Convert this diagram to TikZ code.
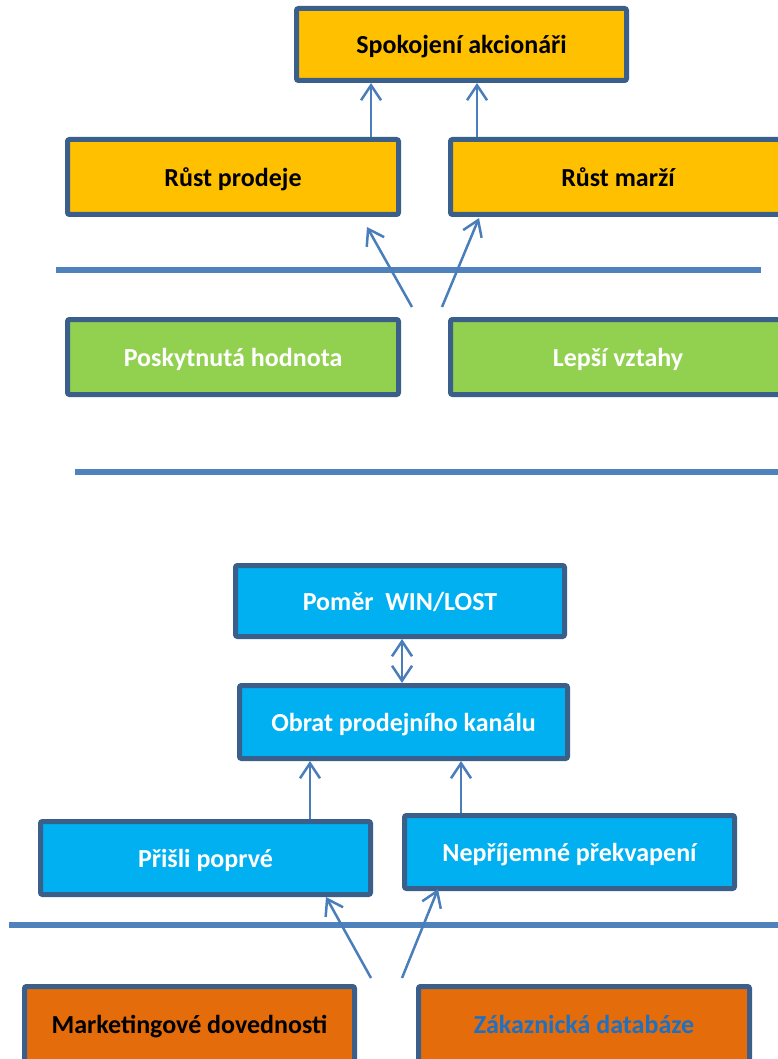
\documentclass[tikz,border=0pt]{standalone}
\usepackage{fontspec}
\setmainfont{Carlito}
\usetikzlibrary{arrows.meta}
\definecolor{boxline}{HTML}{3A5F8B}
\definecolor{arrowblue}{HTML}{4A7EBB}
\definecolor{sepblue}{HTML}{4F81BD}
\definecolor{goldbox}{HTML}{FFC000}
\definecolor{greenbox}{HTML}{92D050}
\definecolor{cyanbox}{HTML}{00B0F0}
\definecolor{orangebox}{HTML}{E46C0A}
\definecolor{linkblue}{HTML}{1F70C1}

\begin{document}
\begin{tikzpicture}[x=1pt,y=-1pt,
        openhead/.tip={Straight Barb[length=15pt,width=20pt]},
        card/.style={draw=boxline, line width=5pt, rounded corners=2pt, inner sep=0pt,
            minimum width=331pt, minimum height=75pt, text height=22pt, text depth=3pt,
            font=\fontsize{26}{30}\selectfont\bfseries},
        goldcard/.style={card, fill=goldbox, text=black},
        greencard/.style={card, fill=greenbox, text=white},
        cyancard/.style={card, fill=cyanbox, text=white},
        orangecard/.style={card, fill=orangebox},
        arr/.style={draw=arrowblue, line width=2.5pt, -openhead},
        sepline/.style={draw=sepblue, line width=5.5pt}]
        \useasboundingbox (0,0) rectangle (777,1059);

        % separators
        \coordinate (s1a) at (56,270);
        \coordinate (s1b) at (761,270);
        \coordinate (s2a) at (75,472);
        \coordinate (s2b) at (790,472);
        \coordinate (s3a) at (9,925);
        \coordinate (s3b) at (790,925);

        % free ends of the arrows
        \coordinate (vA) at (412,307);
        \coordinate (vB) at (442,307);
        \coordinate (wA) at (371,978);
        \coordinate (wB) at (402,978);
        \coordinate (xA) at (371,0);
        \coordinate (xB) at (477,0);
        \coordinate (xC) at (402,0);
        \coordinate (xD) at (310,0);
        \coordinate (xE) at (461,0);

        \node[goldcard, minimum width=330pt, minimum height=72pt] (akcie) at (461.5,44.5) {Spokojení akcionáři};
        \node[goldcard] (prodej) at (233,177) {Růst prodeje};
        \node[goldcard, minimum width=335pt] (marze) at (618,177) {Růst marží};

        \node[greencard] (hodnota) at (233,357) {Poskytnutá hodnota};
        \node[greencard, minimum width=335pt] (vztahy) at (618,357) {Lepší vztahy};

        \node[cyancard, minimum width=329pt, minimum height=71pt] (pomer) at (400,601) {Poměr~ WIN/LOST};
        \node[cyancard, minimum width=328pt, minimum height=73pt] (obrat) at (403.5,722) {Obrat prodejního kanálu};
        \node[cyancard, minimum width=330pt, minimum height=73pt] (prisli) at (205.5,858) {Přišli poprvé};
        \node[cyancard, minimum width=330pt, minimum height=73pt] (neprijemne) at (569.5,852) {Nepříjemné překvapení};

        \node[orangecard, minimum width=330pt, text=black] (marketing) at (189.5,1024) {Marketingové dovednosti};
        \node[orangecard, text=linkblue] (databaze) at (584,1024) {Zákaznická databáze};

        \draw[sepline] (s1a) -- (s1b);
        \draw[sepline] (s2a) -- (s2b);
        \draw[sepline] (s3a) -- (s3b);

        \draw[arr] (xA |- prodej.north) -- (xA |- akcie.south);
        \draw[arr] (xB |- marze.north) -- (xB |- akcie.south);
        \draw[arr] (vA) -- ([shift={(-34,10)}]prodej.south east);
        \draw[arr] (vB) -- ([shift={(31,1)}]marze.south west);

        \draw[arr, openhead-openhead] (xC |- obrat.north) -- (xC |- pomer.south);
        \draw[arr] (xD |- prisli.north) -- (xD |- obrat.south);
        \draw[arr] (xE |- neprijemne.north) -- (xE |- obrat.south);
        \draw[arr] (wA) -- ([shift={(-47,0)}]prisli.south east);
        \draw[arr] (wB) -- ([shift={(36,-2)}]neprijemne.south west);
\end{tikzpicture}
\end{document}
